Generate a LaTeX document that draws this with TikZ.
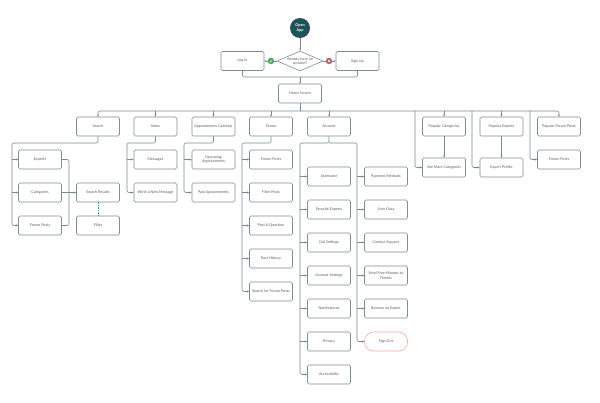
\documentclass[tikz,border=0pt]{standalone}
\usepackage{fontspec}
\setmainfont{Lato}
\usetikzlibrary{shapes.geometric,arrows.meta}
\definecolor{ln}{HTML}{7A8A8E}
\definecolor{bx}{HTML}{7F8E92}
\definecolor{tx}{HTML}{5A5A5A}
\definecolor{teal}{HTML}{1E5459}
\definecolor{okg}{HTML}{3DB54A}
\definecolor{nor}{HTML}{E05252}
\definecolor{pink}{HTML}{F4A3A3}
\definecolor{blu}{HTML}{4A90E2}
\tikzset{
  box/.style={draw=bx, line width=0.6pt, rounded corners=1.5pt, minimum width=43pt, minimum height=19pt, inner sep=1pt, align=center, text=tx, font=\fontsize{3.7}{4.5}\selectfont},
  txt/.style={text=tx, font=\fontsize{3.7}{4.5}\selectfont, align=center, inner sep=0pt},
  conn/.style={draw=ln, line width=0.6pt, rounded corners=2pt},
  arr/.style={conn, -{Stealth[length=2.2pt,width=2pt]}},
}
\begin{document}
\begin{tikzpicture}[x=1pt,y=-1pt]
\fill[white] (0,0) rectangle (600,402);
\useasboundingbox (0,0) rectangle (600,402);

% top
\node[circle, fill=teal, minimum size=20pt, inner sep=0pt, text=white, align=center, font=\fontsize{3.8}{4.6}\selectfont\bfseries] (open) at (300,28) {Open\\App};
\node[diamond, draw=bx, line width=0.6pt, minimum width=46pt, minimum height=20pt, inner sep=0pt, aspect=2.3] (dec) at (300,61) {};
\node[txt] at (dec) {Already have an\\account?};
\node[box] (login) at (242.5,61) {Log In};
\node[box] (signup) at (357.5,61) {Sign Up};
\node[circle, fill=okg, draw=ln, line width=0.4pt, minimum size=6pt, inner sep=0pt] (yes) at (271,61) {};
\node[circle, fill=nor, draw=ln, line width=0.4pt, minimum size=6pt, inner sep=0pt] (no) at (329,61) {};
\draw[white, line width=0.4pt] (269.8,61.1) -- (270.6,61.9) -- (272.3,60.1);
\draw[white, line width=0.4pt] (328,60) -- (330,62) (330,60) -- (328,62);
\node[box] (home) at (300,93.5) {Home Screen};

\draw[arr] (open) -- (dec.north);
\draw[conn] (dec.west) -- (yes);
\draw[arr] (yes) -- (login.east);
\draw[conn] (dec.east) -- (no);
\draw[arr] (no) -- (signup.west);
\coordinate (m) at (300,77);
\draw[conn] (login.south) |- (m) -| (signup.south);
\draw[arr] (m) -- (home.north);

% level 2
\node[box] (search) at (98,126.5) {Search};
\node[box] (inbox) at (155.5,126.5) {Inbox};
\node[box] (appt) at (213.5,126.5) {Appointments Calendar};
\node[box] (forum) at (271,126.5) {Forum};
\node[box] (account) at (329,126.5) {Account};
\node[box] (popcat) at (444,126.5) {Popular Categories};
\node[box] (popexp) at (501.5,126.5) {Popular Experts};
\node[box] (popfor) at (559,126.5) {Popular Forum Posts};

\coordinate (hb) at (300,111);
\draw[conn] (home.south) -- (hb);
\draw[arr] (hb) -| (search.north);
\draw[arr] (hb) -| (popfor.north);
\foreach \n in {inbox,appt,forum,account,popcat,popexp}
  \draw[arr] (hb -| \n.north) -- (\n.north);

% search
\node[box] (experts) at (40,159.5) {Experts};
\node[box] (cats) at (40,192.5) {Categories};
\node[box] (sfp) at (40,225.5) {Forum Posts};
\node[box] (sres) at (98,192.5) {Search Results};
\node[box] (filter) at (98,225.5) {Filter};
\coordinate (sb) at (12,143);
\draw[arr] (search.south) |- (sb) |- (sfp.west);
\foreach \n in {experts,cats} \draw[arr] (sb |- \n.west) -- (\n.west);
\coordinate (sm) at (69,192.5);
\draw[conn] (experts.east) -| (sm);
\draw[conn] (sfp.east) -| (sm);
\draw[arr] (cats.east) -- (sres.west);
\draw[blu, line width=0.6pt, dash pattern=on 1.5pt off 1pt] (sres.south) -- (filter.north);

% inbox
\node[box] (msgs) at (155.5,159.5) {Messages};
\node[box] (write) at (155.5,192.5) {Write a New Message};
\coordinate (ib) at (127,143);
\draw[arr] (inbox.south) |- (ib) |- (write.west);
\draw[arr] (ib |- msgs.west) -- (msgs.west);

% appointments
\node[box] (upc) at (213.5,159.5) {Upcoming\\Appointments};
\node[box] (past) at (213.5,192.5) {Past Appointments};
\coordinate (ab) at (184,143);
\draw[arr] (appt.south) |- (ab) |- (past.west);
\draw[arr] (ab |- upc.west) -- (upc.west);

% forum
\node[box] (fposts) at (271,159.5) {Forum Posts};
\node[box] (fpfilter) at (271,192.5) {Filter Posts};
\node[box] (ask) at (271,225.5) {Post A Question};
\node[box] (hist) at (271,258.5) {Post History};
\node[box] (fsearch) at (271,291.5) {Search for Forum Posts};
\coordinate (fb) at (242,143);
\draw[arr] (forum.south) |- (fb) |- (fsearch.west);
\foreach \n in {fposts,fpfilter,ask,hist} \draw[arr] (fb |- \n.west) -- (\n.west);

% account
\node[box] (user) at (329,176.5) {Username};
\node[box] (fav) at (329,209.5) {Favorite Experts};
\node[box] (call) at (329,242.5) {Call Settings};
\node[box] (accset) at (329,275.5) {Account Settings};
\node[box] (notif) at (329,308.5) {Notifications};
\node[box] (priv) at (329,341.5) {Privacy};
\node[box] (access) at (329,374.5) {Accessibility};
\node[box] (pay) at (386,176.5) {Payment Methods};
\node[box] (udata) at (386,209.5) {User Data};
\node[box] (contact) at (386,242.5) {Contact Support};
\node[box] (send) at (386,275.5) {Send Free Minutes to\\Friends};
\node[box] (become) at (386,308.5) {Become an Expert};
\node[box, draw=pink, rounded corners=9pt] (signout) at (386,341.5) {Sign Out};
\coordinate (alb) at (300,143);
\coordinate (arb) at (357,143);
\draw[arr] (account.south) |- (alb) |- (access.west);
\draw[arr] (account.south |- arb) -- (arb) |- (signout.west);
\foreach \n in {user,fav,call,accset,notif,priv} \draw[arr] (alb |- \n.west) -- (\n.west);
\foreach \n in {pay,udata,contact,send,become} \draw[arr] (arb |- \n.west) -- (\n.west);

% right side
\node[box] (seemore) at (444,167.5) {See More Categories};
\node[box] (eprof) at (501.5,167.5) {Expert Profile};
\node[box] (rfp) at (559,159.5) {Forum Posts};
\coordinate (r1) at (415,111);
\coordinate (r2) at (472,111);
\coordinate (r3) at (530,111);
\draw[arr] (r1) |- (seemore.west);
\draw[arr] (r2) |- (eprof.west);
\draw[arr] (r3) |- (rfp.west);
\draw[arr] (popcat.south) -- (seemore.north);
\draw[arr] (popexp.south) -- (eprof.north);
\end{tikzpicture}
\end{document}
